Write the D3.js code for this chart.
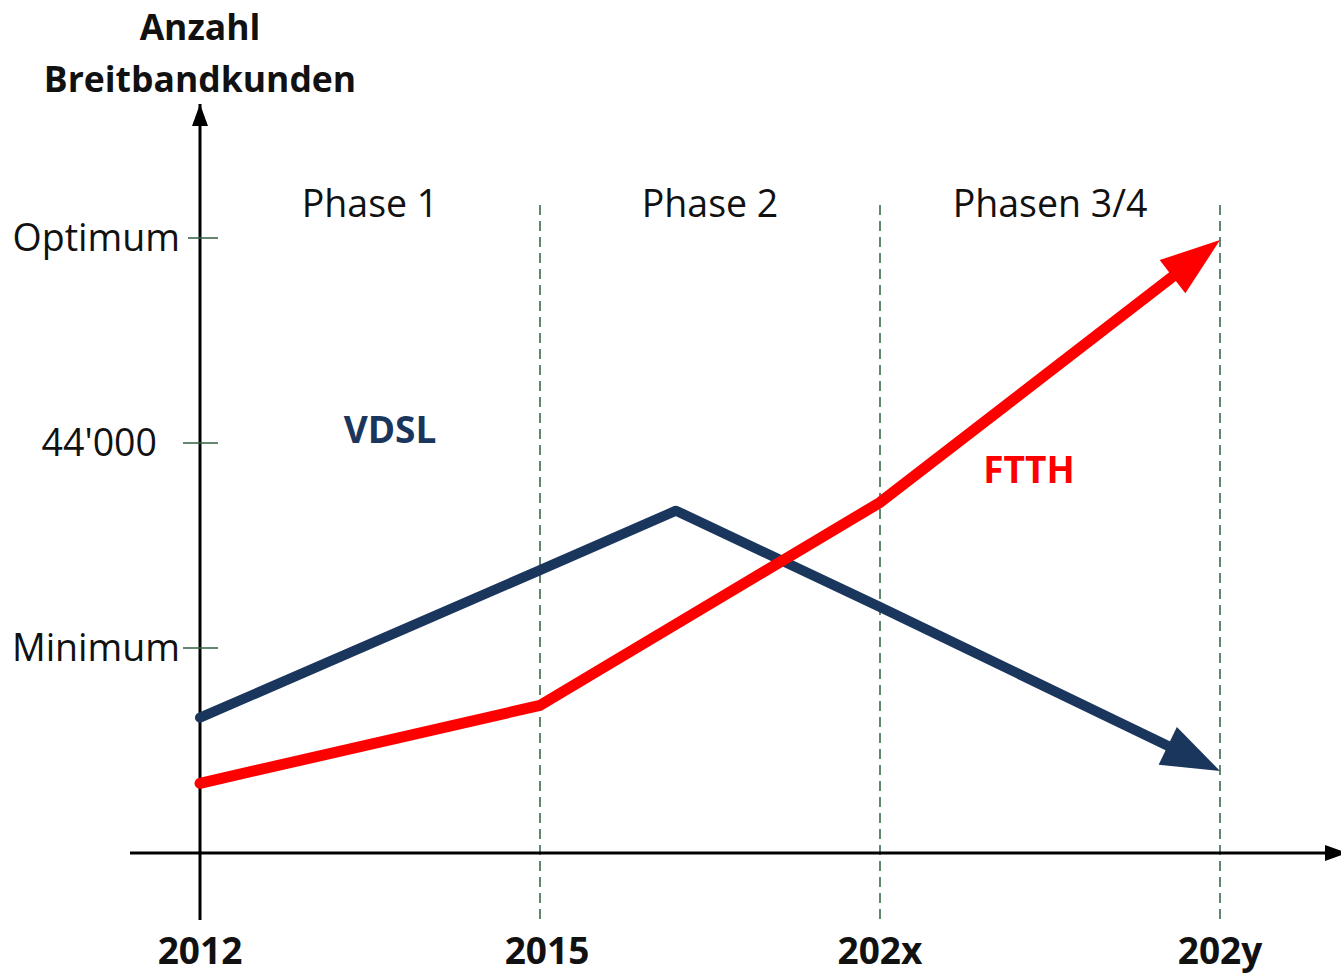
<!DOCTYPE html>
<html lang="de">
<head>
<meta charset="utf-8">
<title>Anzahl Breitbandkunden</title>
<script src="https://d3js.org/d3.v7.min.js"></script>
<style>
  body { margin: 0; background: #fff; font-family: "Open Sans", "Noto Sans", sans-serif; }
  svg { display: block; }
</style>
</head>
<body>
<div id="chart"></div>
<script>
// categories on the x axis (index positions 0..3)
var categories = ["2012", "2015", "202x", "202y"];
var phases = ["Phase 1", "Phase 2", "Phasen 3/4"];

// y tick labels, in units of one tick step above the x axis
var yTickValues = [1, 2, 3];
var yTickLabels = ["Minimum", "44'000", "Optimum"];

// series (x = category index, y = tick units)
var vdslX = [0, 1, 1.4, 2, 3];
var vdslY = [0.66, 1.38, 1.67, 1.2, 0.40];
var ftthX = [0, 1, 2, 3];
var ftthY = [0.34, 0.72, 1.71, 2.99];

var w = 1341, h = 975;
var navy = "#1b365d", red = "#ff0000", green = "#2f5f3f";

var x = d3.scaleLinear().domain([0, 3]).range([200, 1220]);
var y = d3.scaleLinear().domain([0, 3]).range([853, 238]);

var svg = d3.select("#chart").append("svg")
  .attr("width", w).attr("height", h);

var defs = svg.append("defs");
defs.append("marker")
  .attr("id", "arrAxis")
  .attr("markerUnits", "userSpaceOnUse")
  .attr("viewBox", "0 0 22 16")
  .attr("refX", 22).attr("refY", 8)
  .attr("markerWidth", 22).attr("markerHeight", 16)
  .attr("orient", "auto")
  .append("path")
  .attr("d", "M0,0L22,8L0,16Z")
  .attr("fill", "#000");

// dashed phase separators
svg.selectAll(".sep")
  .data([1, 2, 3])
  .enter().append("line")
  .attr("class", "sep")
  .attr("x1", function(d) { return x(d); })
  .attr("x2", function(d) { return x(d); })
  .attr("y1", 205).attr("y2", 920)
  .attr("stroke", green).attr("stroke-width", 1.5)
  .attr("stroke-dasharray", "10,6");

// axes
svg.append("line")
  .attr("x1", 130).attr("x2", w + 6)
  .attr("y1", y(0)).attr("y2", y(0))
  .attr("stroke", "#000").attr("stroke-width", 3)
  .attr("marker-end", "url(#arrAxis)");
svg.append("line")
  .attr("x1", x(0)).attr("x2", x(0))
  .attr("y1", 920).attr("y2", 104)
  .attr("stroke", "#000").attr("stroke-width", 3)
  .attr("marker-end", "url(#arrAxis)");

// y ticks
svg.selectAll(".ytick")
  .data(yTickValues)
  .enter().append("line")
  .attr("class", "ytick")
  .attr("x1", function(d, i) { return i == 2 ? 188 : 183; })
  .attr("x2", 218)
  .attr("y1", function(d) { return y(d); })
  .attr("y2", function(d) { return y(d); })
  .attr("stroke", green).attr("stroke-width", 1.5);

svg.selectAll(".ylab")
  .data(yTickValues)
  .enter().append("text")
  .attr("class", "ylab")
  .attr("x", function(d, i) { return i == 1 ? 157 : 180; })
  .attr("y", function(d) { return y(d) + 13; })
  .attr("text-anchor", "end")
  .attr("font-size", "37.5px")
  .attr("fill", "#111")
  .text(function(d, i) { return yTickLabels[i]; });

// axis title
var title = svg.append("text")
  .attr("text-anchor", "middle")
  .attr("font-size", "35.5px").attr("font-weight", "bold").attr("fill", "#111");
title.append("tspan").attr("x", 200).attr("y", 40).text("Anzahl");
title.append("tspan").attr("x", 200).attr("y", 92).text("Breitbandkunden");

// x labels
svg.selectAll(".xlab")
  .data(categories)
  .enter().append("text")
  .attr("class", "xlab")
  .attr("x", function(d, i) { return x(i) + (i == 1 ? 7 : 0); })
  .attr("y", 964)
  .attr("text-anchor", "middle")
  .attr("font-size", "37px").attr("font-weight", "bold").attr("fill", "#111")
  .text(function(d) { return d; });

// phase labels
svg.selectAll(".phase")
  .data(phases)
  .enter().append("text")
  .attr("class", "phase")
  .attr("x", function(d, i) { return x(i + 0.5); })
  .attr("y", 217)
  .attr("text-anchor", "middle")
  .attr("font-size", "37.5px").attr("fill", "#111")
  .text(function(d) { return d; });

// series lines with block arrowheads
function drawArrowLine(xs, ys, color, width, headLen, headWid) {
  var pts = xs.map(function(v, i) { return [x(v), y(ys[i])]; });
  var tip = pts[pts.length - 1], prev = pts[pts.length - 2];
  var dx = tip[0] - prev[0], dy = tip[1] - prev[1];
  var len = Math.sqrt(dx * dx + dy * dy);
  var ux = dx / len, uy = dy / len;
  // pull line end back under the arrowhead
  var cut = headLen - 12;
  var linePts = pts.slice(0, -1).concat([[tip[0] - ux * cut, tip[1] - uy * cut]]);
  svg.append("path")
    .datum(linePts)
    .attr("d", d3.line())
    .attr("fill", "none").attr("stroke", color).attr("stroke-width", width)
    .attr("stroke-linejoin", "round").attr("stroke-linecap", "round");
  var bx = tip[0] - ux * headLen, by = tip[1] - uy * headLen;
  var px = -uy * headWid / 2, py = ux * headWid / 2;
  svg.append("path")
    .attr("d", "M" + tip[0] + "," + tip[1] +
      "L" + (bx + px) + "," + (by + py) +
      "L" + (bx - px) + "," + (by - py) + "Z")
    .attr("fill", color);
}
drawArrowLine(vdslX, vdslY, navy, 10, 58, 42);
drawArrowLine(ftthX, ftthY, red, 11, 60, 42);

// series labels
svg.append("text")
  .attr("x", 390).attr("y", 443)
  .attr("text-anchor", "middle")
  .attr("font-size", "37px").attr("font-weight", "bold").attr("fill", navy)
  .text("VDSL");
svg.append("text")
  .attr("x", 1029).attr("y", 483)
  .attr("text-anchor", "middle")
  .attr("font-size", "37px").attr("font-weight", "bold").attr("fill", red)
  .text("FTTH");
</script>
</body>
</html>
